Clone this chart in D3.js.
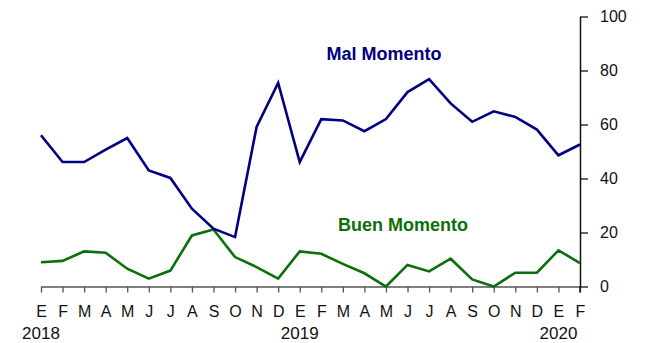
<!DOCTYPE html>
<html>
<head>
<meta charset="utf-8">
<script src="https://cdn.jsdelivr.net/npm/d3@7"></script>
<style>
  html, body { margin: 0; padding: 0; background: #fff; }
  svg { display: block; font-family: "Liberation Sans", Arial, sans-serif; }
</style>
</head>
<body>
<svg id="chart" width="647" height="343"></svg>
<script>
// Monthly series, Jan 2018 – Feb 2020
const months = ["E","F","M","A","M","J","J","A","S","O","N","D",
                "E","F","M","A","M","J","J","A","S","O","N","D",
                "E","F"];
const years = [{ i: 0, label: "2018" }, { i: 12, label: "2019" }, { i: 24, label: "2020" }];
const malMomento = [56.0, 46.1, 46.1, 50.7, 55.0, 43.0, 40.2, 28.8, 21.4, 18.3, 59.1, 75.4,
                    46.1, 62.0, 61.5, 57.5, 62.0, 72.0, 76.8, 67.8, 61.0, 64.9, 62.8, 58.1,
                    48.6, 52.6];
const buenMomento = [9.0, 9.5, 13.0, 12.5, 6.6, 2.9, 5.9, 18.9, 21.1, 10.9, 7.2, 2.9,
                     13.0, 12.1, 8.4, 4.9, 0.0, 8.0, 5.6, 10.3, 2.6, 0.0, 5.1, 5.1,
                     13.4, 8.7];
const yTicks = [0, 20, 40, 60, 80, 100];

const svg = d3.select("#chart");

const x = d3.scalePoint()
  .domain(d3.range(months.length))
  .range([41, 580]);

const y = d3.scaleLinear()
  .domain([0, 100])
  .range([286.5, 16.5]);

// X axis (months)
const xAxis = svg.append("g")
  .attr("transform", `translate(0,${y(0)})`)
  .call(d3.axisBottom(x)
    .tickSizeInner(6)
    .tickSizeOuter(0)
    .tickPadding(13)
    .tickFormat(i => months[i]));
xAxis.select(".domain").attr("stroke", "#555").attr("stroke-width", 1.5);
xAxis.selectAll(".tick line").attr("stroke", "#555").attr("stroke-width", 1.3);
xAxis.selectAll(".tick text")
  .attr("font-size", 16)
  .attr("fill", "#111");

// Years under the months
svg.append("g").selectAll("text")
  .data(years)
  .join("text")
  .attr("x", d => x(d.i))
  .attr("y", 338.5)
  .attr("text-anchor", "middle")
  .attr("font-size", 17)
  .attr("fill", "#111")
  .text(d => d.label);

// Y axis on the right
const yAxis = svg.append("g")
  .attr("transform", `translate(${x(months.length - 1)},0)`)
  .call(d3.axisRight(y)
    .tickValues(yTicks)
    .tickSizeInner(8)
    .tickSizeOuter(0)
    .tickPadding(12));
yAxis.select(".domain").attr("stroke", "#111").attr("stroke-width", 1.5);
yAxis.selectAll(".tick line").attr("stroke", "#111").attr("stroke-width", 1.3);
yAxis.selectAll(".tick text")
  .attr("font-size", 16)
  .attr("fill", "#111");
// extend the vertical axis slightly below the baseline
yAxis.append("line")
  .attr("x1", 0).attr("x2", 0)
  .attr("y1", y(0)).attr("y2", y(0) + 6)
  .attr("stroke", "#111").attr("stroke-width", 1.5);

const line = d3.line()
  .x((d, i) => x(i))
  .y(d => y(d));

svg.append("path")
  .datum(buenMomento)
  .attr("fill", "none")
  .attr("stroke", "#0B700B")
  .attr("stroke-width", 2.6)
  .attr("stroke-linejoin", "miter")
  .attr("d", line);

svg.append("path")
  .datum(malMomento)
  .attr("fill", "none")
  .attr("stroke", "#000080")
  .attr("stroke-width", 2.6)
  .attr("stroke-linejoin", "miter")
  .attr("d", line);

// Series labels
svg.append("text")
  .attr("x", 384)
  .attr("y", 60)
  .attr("text-anchor", "middle")
  .attr("font-size", 18)
  .attr("font-weight", "bold")
  .attr("fill", "#000080")
  .text("Mal Momento");

svg.append("text")
  .attr("x", 403)
  .attr("y", 231)
  .attr("text-anchor", "middle")
  .attr("font-size", 18)
  .attr("font-weight", "bold")
  .attr("fill", "#0B700B")
  .text("Buen Momento");
</script>
</body>
</html>
